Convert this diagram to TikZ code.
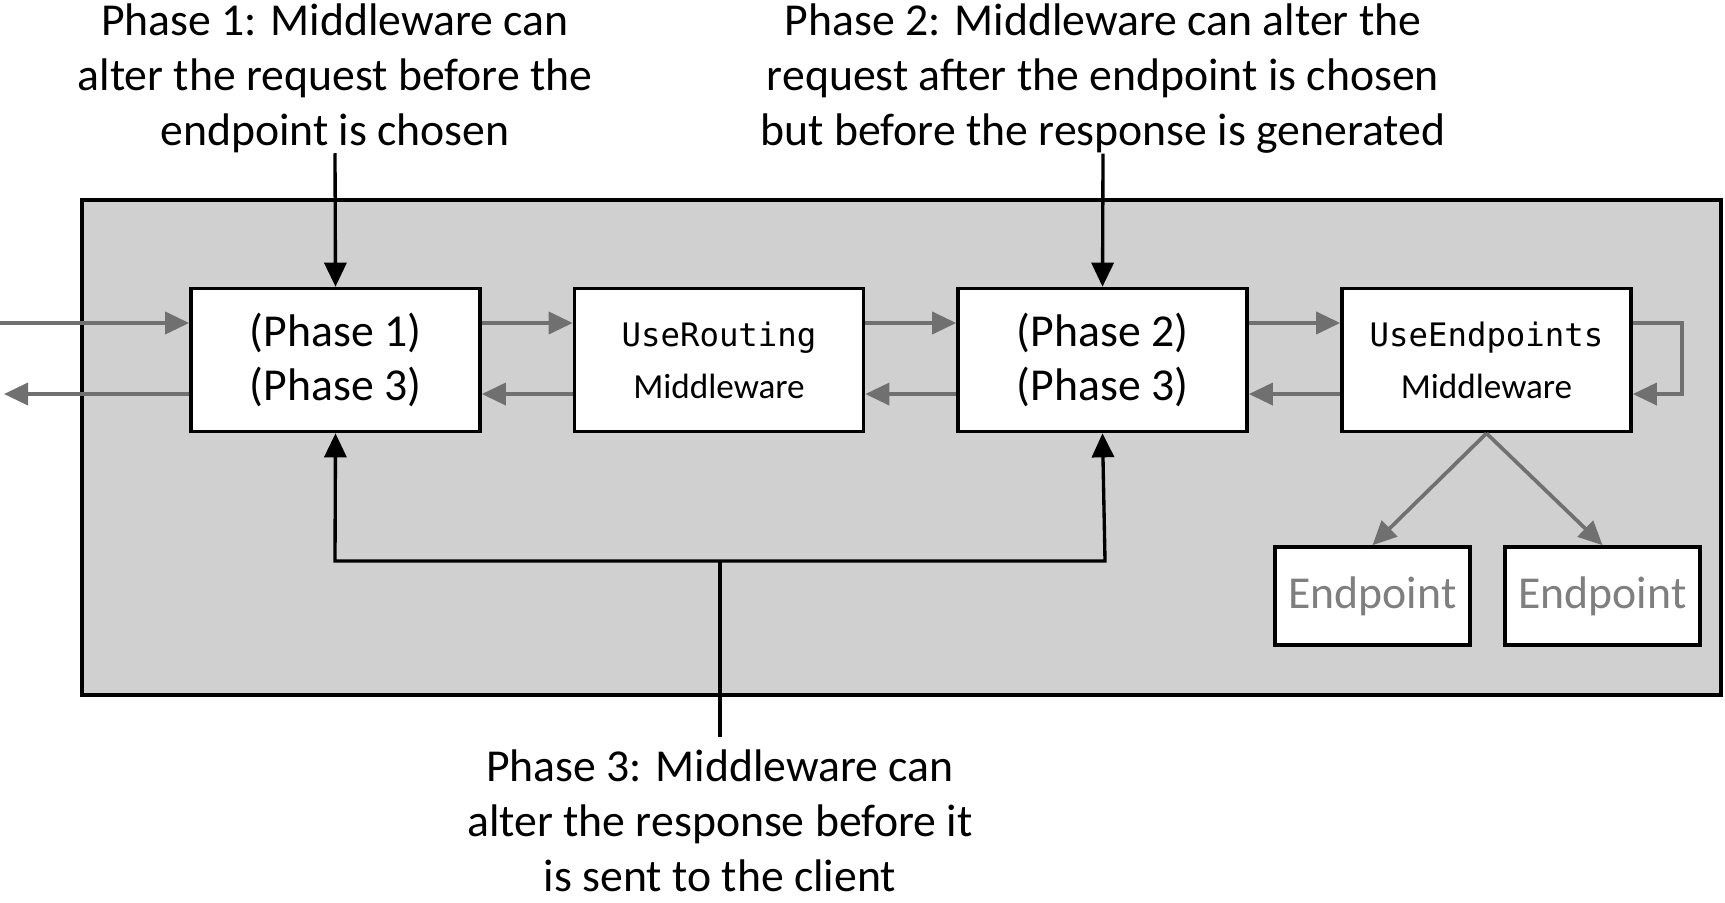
\documentclass[tikz,border=0pt]{standalone}
\usepackage{fontspec}
\setmainfont{Carlito}
\setmonofont{DejaVu Sans Mono}
\usetikzlibrary{arrows.meta, positioning}
\definecolor{bgGray}{HTML}{D0D0D0}
\definecolor{arrGray}{HTML}{707070}
\definecolor{epGray}{HTML}{7F7F7F}
\newcommand{\mwname}[1]{{\fontsize{9.2}{14.7}\selectfont\ttfamily #1}}

\begin{document}
\begin{tikzpicture}[x=0.01cm, y=-0.01cm,
      box/.style={draw, line width=1pt, fill=white, minimum width=2.89cm,
                  minimum height=1.43cm, align=center, inner sep=0pt,
                  font=\fontsize{13}{15.6}\selectfont},
      mw/.style={box, font=\fontsize{10}{14.7}\selectfont},
      ep/.style={box, minimum width=1.95cm, minimum height=0.98cm, text=epGray},
      lbl/.style={align=center, inner sep=0pt, anchor=north,
                  font=\fontsize{13}{15.6}\selectfont},
      garr/.style={-{Triangle[length=2.4mm, width=2.2mm]}, line width=1.05pt, arrGray},
      barr/.style={-{Triangle[length=2.4mm, width=2.2mm]}, line width=0.95pt, black}]
    \useasboundingbox (0,0) rectangle (1725,902);
    \draw[line width=1.2pt, fill=bgGray] (82,200) rectangle (1721,695);

    \node[box] (p1) at (335.5,360) {(Phase 1)\\(Phase 3)};
    \node[mw]  (rt) at (719,360)   {\mwname{UseRouting}\\Middleware};
    \node[box] (p2) at (1102.5,360) {(Phase 2)\\(Phase 3)};
    \node[mw]  (ue) at (1486.5,360) {\mwname{UseEndpoints}\\Middleware};
    \node[ep]  (e1) at (1372.5,596)  {Endpoint};
    \node[ep]  (e2) at (1602.5,596)  {Endpoint};

    \node[lbl] (l1) at (335,3)   {Phase 1: Middleware can\\alter the request before the\\endpoint is chosen};
    \node[lbl] (l2) at (1103,3)  {Phase 2: Middleware can alter the\\request after the endpoint is chosen\\but before the response is generated};
    \node[lbl] (l3) at (720,749) {Phase 3: Middleware can\\alter the response before it\\is sent to the client};

    \coordinate (inL)  at (0,323);
    \coordinate (outL) at (4,394);
    \coordinate (j1) at (335,561);
    \coordinate (j2) at (1105,561);
    \coordinate (j3) at (720,561);
    \coordinate (c3) at (720,737);

    % request / response flow
    \draw[garr] (inL) -- ([yshift=0.37cm]p1.west);
    \draw[garr] ([yshift=-0.34cm]p1.west) -- (outL);
    \draw[garr] ([yshift=0.37cm]p1.east) -- ([yshift=0.37cm]rt.west);
    \draw[garr] ([yshift=-0.34cm]rt.west) -- ([yshift=-0.34cm]p1.east);
    \draw[garr] ([yshift=0.37cm]rt.east) -- ([yshift=0.37cm]p2.west);
    \draw[garr] ([yshift=-0.34cm]p2.west) -- ([yshift=-0.34cm]rt.east);
    \draw[garr] ([yshift=0.37cm]p2.east) -- ([yshift=0.37cm]ue.west);
    \draw[garr] ([yshift=-0.34cm]ue.west) -- ([yshift=-0.34cm]p2.east);
    \draw[garr] ([yshift=0.37cm]ue.east) -- ++(49,0) |- ([yshift=-0.34cm]ue.east);
    \draw[garr] (ue.south) -- (e1.north);
    \draw[garr] (ue.south) -- (e2.north);

    % phase callouts
    \draw[barr] (l1.south) -- (p1.north);
    \draw[barr] (l2.south) -- (p2.north);
    \draw[line width=0.95pt] (c3) -- (j3);
    \draw[barr] (j3) -- (j1) -- (p1.south);
    \draw[barr] (j3) -- (j2) -- (p2.south);
  \end{tikzpicture}
\end{document}
